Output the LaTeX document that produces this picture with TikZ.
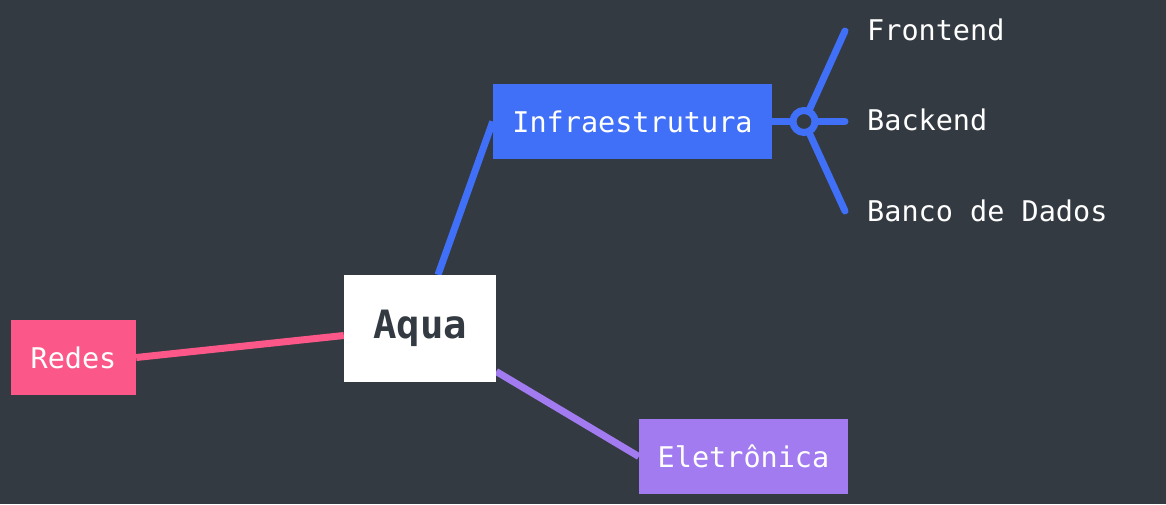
\documentclass[tikz,border=0pt]{standalone}
\usepackage{fontspec}
\setmainfont{DejaVu Sans Mono}
\usetikzlibrary{calc}
\definecolor{bg}{HTML}{343A41}
\definecolor{cblue}{HTML}{4070F8}
\definecolor{cpink}{HTML}{FB5889}
\definecolor{cpurple}{HTML}{A27BF0}
\tikzset{
  box/.style={draw=none, inner sep=0pt, text=white, font=\fontsize{28.5}{30}\selectfont},
  centralbox/.style={box, fill=white, text=bg, minimum width=152pt, minimum height=107pt, font=\fontsize{39}{40}\selectfont\bfseries},
  conn/.style={line width=7pt, line cap=round},
  leaf/.style={inner sep=0pt, anchor=base west, text=white, font=\fontsize{28.5}{30}\selectfont},
}
\begin{document}
\begin{tikzpicture}[x=1pt,y=-1pt]
\fill[bg] (0,0) rectangle (1166,504);
\useasboundingbox (0,0) rectangle (1166,504);
% node positions
\path (420,328.5) node[centralbox] (aqua) {Aqua};
\path (73.5,357.5) node[box, fill=cpink, minimum width=125pt, minimum height=75pt] (redes) {Redes};
\path (632.5,121.5) node[box, fill=cblue, minimum width=279pt, minimum height=75pt] (infra) {Infraestrutura};
\path (743.5,456.5) node[box, fill=cpurple, minimum width=209pt, minimum height=75pt] (ele) {Eletrônica};
% connectors
\coordinate (aquaTop) at ($(aqua.north)+(18,0)$);
\coordinate (aquaLeft) at ($(aqua.west)+(0,7)$);
\coordinate (aquaRight) at ($(aqua.east)+(0,43)$);
\draw[conn, cblue, line cap=butt] (aquaTop) -- (infra.west);
\draw[conn, cpink, line cap=butt] (redes.east) -- (aquaLeft);
\draw[conn, cpurple, line cap=butt] (aquaRight) -- (ele.west);
% boxes drawn again over the connector ends
\node[centralbox] at (aqua) {Aqua};
\node[box, fill=cpink, minimum width=125pt, minimum height=75pt] at (redes) {Redes};
\node[box, fill=cblue, minimum width=279pt, minimum height=75pt] at (infra) {Infraestrutura};
\node[box, fill=cpurple, minimum width=209pt, minimum height=75pt] at (ele) {Eletrônica};
% hub
\coordinate (hub) at (804,121.5);
\coordinate (eF) at (845,31);
\coordinate (eB) at (845,121.5);
\coordinate (eD) at (845,211);
\draw[conn, cblue, line cap=butt] (infra.east) -- (hub);
\draw[conn, cblue] (hub) -- (eF);
\draw[conn, cblue] (hub) -- (eB);
\draw[conn, cblue] (hub) -- (eD);
\node[circle, draw=cblue, fill=bg, line width=7pt, minimum size=22pt, inner sep=0pt] (hubc) at (hub) {};
% leaves
\node[leaf] (fe) at (867,40) {Frontend};
\node[leaf] (be) at (867,130) {Backend};
\node[leaf] (db) at (867,221) {Banco de Dados};
\end{tikzpicture}
\end{document}
